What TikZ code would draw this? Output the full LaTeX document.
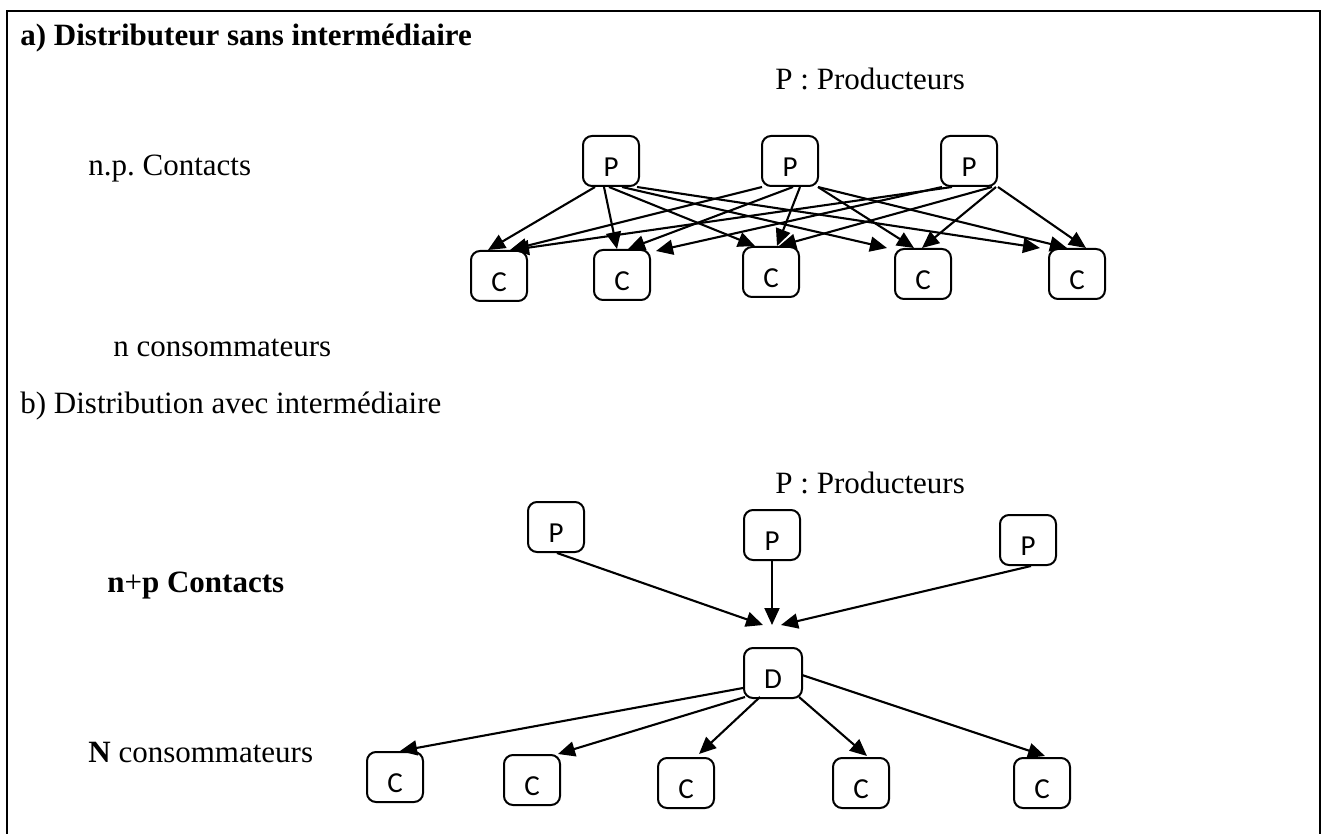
\documentclass[tikz,border=0pt]{standalone}
\usepackage{fontspec}
\setmainfont{Liberation Serif}
\newfontfamily\boxfont{Carlito}
\usetikzlibrary{arrows.meta,calc}
\frenchspacing
\begin{document}
\begin{tikzpicture}[x=0.5pt,y=-0.5pt,
  box/.style={draw, line width=1pt, rounded corners=4.5pt,
    minimum width=28pt, minimum height=25pt, inner sep=0pt,
    text height=15.3pt, text depth=0pt,
    font=\boxfont\fontsize{14.5}{17}\selectfont},
  arr/.style={line width=1.05pt, -{Triangle[length=8.5pt,width=7.5pt]}},
  lbl/.style={anchor=base west, inner sep=0pt, font=\fontsize{15.5}{18}\selectfont}]
\useasboundingbox (0,0) rectangle (1328,834);
% open frame
\draw[line width=1.1pt] (7,834) -- (7,11) -- (1320,11) -- (1320,834);

% ---- a) direct distribution ----
\node[lbl] (ta) at (20,46) {\textbf{a) Distributeur sans intermédiaire}};
\node[lbl] (tpa) at (775,90) {P : Producteurs};
\node[lbl] (tca) at (88,176) {n.p. Contacts};
\node[lbl] (tna) at (113,357) {n consommateurs};

\node[box] (a1) at (611,161) {P};
\node[box] (a2) at (790,161) {P};
\node[box] (a3) at (969,161) {P};
\node[box] (b1) at (499,276) {C};
\node[box] (b2) at (622,275) {C};
\node[box] (b3) at (771,272) {C};
\node[box] (b4) at (923,274) {C};
\node[box] (b5) at (1077,274) {C};

% producer 1
\draw[arr] ($(a1.south)+(-16,0)$) -- ($(b1.north)+(-11,0)$);
\draw[arr] ($(a1.south)+(-7,0)$)  -- ($(b2.north)+(-5,0)$);
\draw[arr] ($(a1.south)+(-2,0)$)  -- ($(b3.north)+(-16,0)$);
\draw[arr] ($(a1.south)+(11,0)$)  -- ($(b4.north)+(-36,0)$);
\draw[arr] ($(a1.south)+(26,0)$)  -- ($(b5.north)+(-37,0)$);
% producer 2
\draw[arr] ($(a2.south)+(-28,0)$) -- ($(b1.north)+(11,0)$);
\draw[arr] ($(a2.south)+(3,0)$)   -- ($(b2.north)+(6,0)$);
\draw[arr] ($(a2.south)+(10,0)$)  -- ($(b3.north)+(6,0)$);
\draw[arr] ($(a2.south)+(28,0)$)  -- ($(b4.north)+(-9,0)$);
\draw[arr] ($(a2.south)+(28,0)$)  -- ($(b5.north)+(-10,0)$);
% producer 3
\draw[arr] ($(a3.south)+(-17,0)$) -- ($(b1.north)+(13,0)$);
\draw[arr] ($(a3.south)+(-27,0)$) -- ($(b2.north)+(34,2)$);
\draw[arr] ($(a3.south)+(23,0)$)  -- ($(b3.north)+(8,0)$);
\draw[arr] ($(a3.south)+(27,0)$)  -- ($(b4.north)+(-1,0)$);
\draw[arr] ($(a3.south)+(29,0)$)  -- ($(b5.north)+(9,0)$);

% ---- b) distribution through an intermediary ----
\node[lbl] (tb) at (20,413) {b) Distribution avec intermédiaire};
\node[lbl] (tpb) at (775,493) {P : Producteurs};
\node[lbl] (tcb) at (107,592) {\textbf{n}+\textbf{p Contacts}};
\node[lbl] (tnb) at (88,762) {\textbf{N} consommateurs};

\node[box] (p1) at (556,527) {P};
\node[box] (p2) at (772,535) {P};
\node[box] (p3) at (1028,540) {P};
\node[box, minimum width=29pt] (d) at (773,673) {D};
\coordinate (m) at (772,625);
\node[box] (c1) at (395,777) {C};
\node[box] (c2) at (532,780) {C};
\node[box] (c3) at (686,783) {C};
\node[box] (c4) at (861,783) {C};
\node[box] (c5) at (1042,783) {C};

\draw[arr] ($(p1.south)+(1,0)$) -- ($(m)+(-9,0)$);
\draw[arr] (p2.south) -- (m);
\draw[arr] ($(p3.south)+(3,0)$) -- ($(m)+(9,0)$);

\draw[arr] ($(d.center)+(-30,15)$) -- ($(c1.north)+(5,0)$);
\draw[arr] ($(d.center)+(-28,24)$) -- ($(c2.north)+(26,0)$);
\draw[arr] ($(d.center)+(-13,24)$) -- ($(c3.north)+(13,-3)$);
\draw[arr] ($(d.center)+(26,24)$)  -- ($(c4.north)+(6,-1)$);
\draw[arr] ($(d.center)+(29,2)$)   -- ($(c5.north)+(3,-1)$);
\end{tikzpicture}
\end{document}
